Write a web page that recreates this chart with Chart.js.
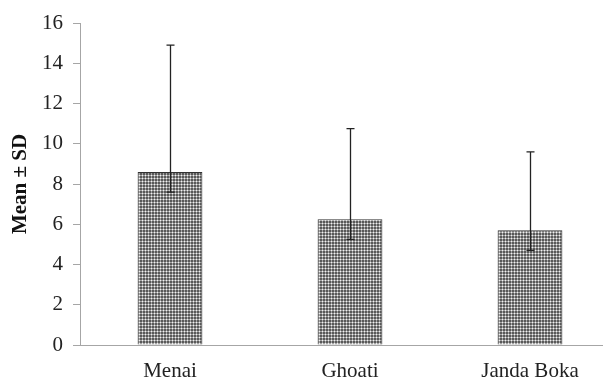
<!DOCTYPE html>
<html>
<head>
<meta charset="utf-8">
<script src="https://cdn.jsdelivr.net/npm/chart.js@4"></script>
<style>
  html, body { margin: 0; padding: 0; background: #fff; overflow: hidden; }
</style>
</head>
<body>
<canvas id="chart" width="625" height="379"></canvas>
<script>
const categories = ['Menai', 'Ghoati', 'Janda Boka'];
const means = [8.6, 6.25, 5.7];
const errLow = [7.6, 5.25, 4.7];
const errHigh = [14.9, 10.75, 9.6];
const yTicks = [0, 2, 4, 6, 8, 10, 12, 14, 16];

function makePattern() {
  const tile = [
    ['#595959', '#a4a4a4', '#595959'],
    ['#a4a4a4', '#f2f2f2', '#a4a4a4'],
    ['#595959', '#a4a4a4', '#595959']
  ];
  const c = document.createElement('canvas');
  c.width = 3;
  c.height = 3;
  const g = c.getContext('2d');
  tile.forEach((row, r) => row.forEach((col, k) => {
    g.fillStyle = col;
    g.fillRect(k, r, 1, 1);
  }));
  return g.createPattern(c, 'repeat');
}

// whiskers drawn from errLow/errHigh through the y scale
const errorBars = {
  id: 'errorBars',
  afterDatasetsDraw(chart) {
    const ctx = chart.ctx;
    const meta = chart.getDatasetMeta(0);
    const y = chart.scales.y;
    ctx.save();
    ctx.strokeStyle = '#222';
    ctx.lineWidth = 1.3;
    meta.data.forEach((bar, i) => {
      const x = Math.round(bar.x) + 0.5;
      const top = y.getPixelForValue(errHigh[i]);
      const bot = y.getPixelForValue(errLow[i]);
      ctx.beginPath();
      ctx.moveTo(x, top);
      ctx.lineTo(x, bot);
      ctx.moveTo(x - 4, top);
      ctx.lineTo(x + 4, top);
      ctx.moveTo(x - 4, bot);
      ctx.lineTo(x + 4, bot);
      ctx.stroke();
    });
    ctx.restore();
  }
};

const font = { family: '"Liberation Serif", "Times New Roman", serif', size: 21 };

new Chart(document.getElementById('chart'), {
  type: 'bar',
  data: {
    labels: categories,
    datasets: [{
      data: means,
      backgroundColor: makePattern(),
      borderColor: '#333',
      borderWidth: 1,
      categoryPercentage: 1,
      barPercentage: 0.36
    }]
  },
  options: {
    responsive: false,
    animation: false,
    layout: { padding: { top: 23, right: 5, left: 0, bottom: 0 } },
    plugins: { legend: { display: false }, tooltip: { enabled: false } },
    scales: {
      x: {
        grid: { display: false, drawTicks: false },
        border: { color: '#a6a6a6', width: 1 },
        ticks: { color: '#222', font: font, padding: 14 },
        afterFit: s => { s.height = 34; }
      },
      y: {
        min: 0,
        max: 16,
        afterBuildTicks: s => { s.ticks = yTicks.map(v => ({ value: v })); },
        grid: { drawOnChartArea: false, drawTicks: true, tickLength: 7, color: '#a6a6a6' },
        border: { color: '#a6a6a6', width: 1 },
        ticks: { color: '#222', font: font, padding: 10 },
        title: {
          display: true,
          text: 'Mean ± SD',
          color: '#111',
          font: { family: font.family, size: 21, weight: 'bold' },
          padding: { top: 8, bottom: 0 }
        },
        afterFit: s => { s.width = 80; }
      }
    }
  },
  plugins: [errorBars]
});
</script>
</body>
</html>
